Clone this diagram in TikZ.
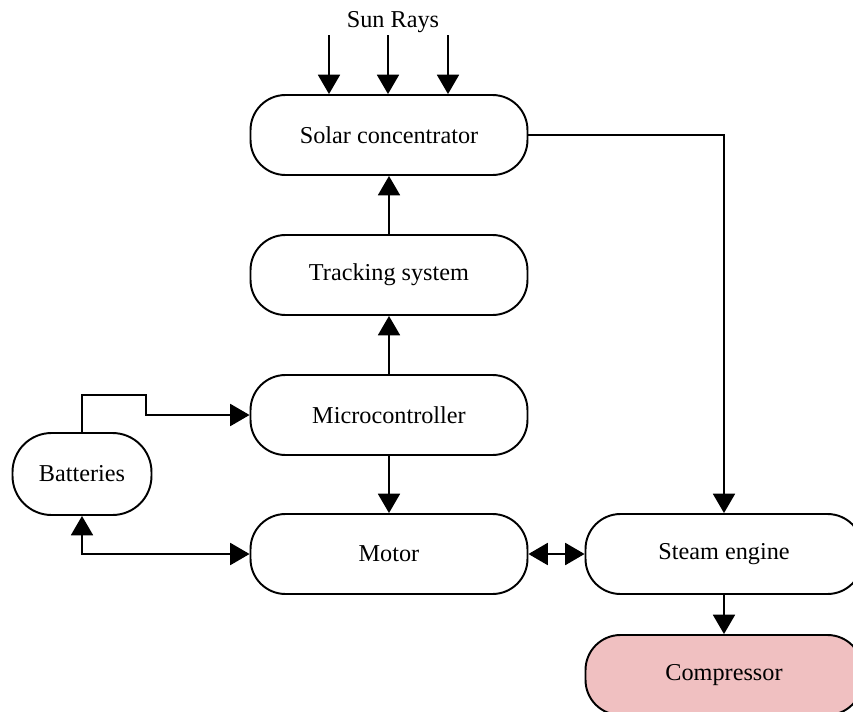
\documentclass[tikz,border=0pt]{standalone}
\usepackage{fontspec}
\setmainfont{Liberation Serif}
\usepackage{xcolor}
\usetikzlibrary{arrows.meta, positioning}

\definecolor{comppink}{RGB}{240,192,193}

\begin{document}
\begin{tikzpicture}[x=0.02cm, y=-0.02cm, line width=1.1pt,
    block/.style={draw, rounded corners=0.7cm, minimum width=5.54cm, minimum height=1.6cm,
        font=\fontsize{13.8}{16}\selectfont},
    flow/.style={-{Triangle[length=11pt, width=12.5pt]}},
    both/.style={{Triangle[length=11pt, width=12.5pt]}-{Triangle[length=11pt, width=12.5pt]}}]
    \useasboundingbox (0,0) rectangle (853,711);
    \node[block] (solar) at (389,135) {Solar concentrator};
    \node[block] (track) at (389,275) {Tracking system};
    \node[block] (micro) at (389,415) {Microcontroller};
    \node[block] (motor) at (389,554) {Motor};
    \node[block, minimum width=2.78cm, minimum height=1.64cm, rounded corners=0.78cm] (bat) at (82,474) {Batteries};
    \node[block] (steam) at (724,554) {Steam engine};
    \node[block, fill=comppink] (comp) at (724,675) {Compressor};
    \node[font=\fontsize{13.8}{16}\selectfont] (sun) at (393,22) {Sun Rays};
    % sun rays
    \coordinate (r1) at (329,35);
    \coordinate (r2) at (388,35);
    \coordinate (r3) at (448,35);
    \foreach \r in {r1, r2, r3}
        \draw[flow] (\r) -- (\r |- solar.north);
    % chain
    \draw[flow] (track) -- (solar);
    \draw[flow] (micro) -- (track);
    \draw[flow] (micro) -- (motor);
    \draw[flow] (solar.east) -| (steam.north);
    \draw[flow] (bat.north) |- (146,395) |- (micro.west);
    \draw[both] (bat.south) |- (motor.west);
    \draw[both] (motor.east) -- (steam.west);
    \draw[flow] (steam) -- (comp);
\end{tikzpicture}
\end{document}
